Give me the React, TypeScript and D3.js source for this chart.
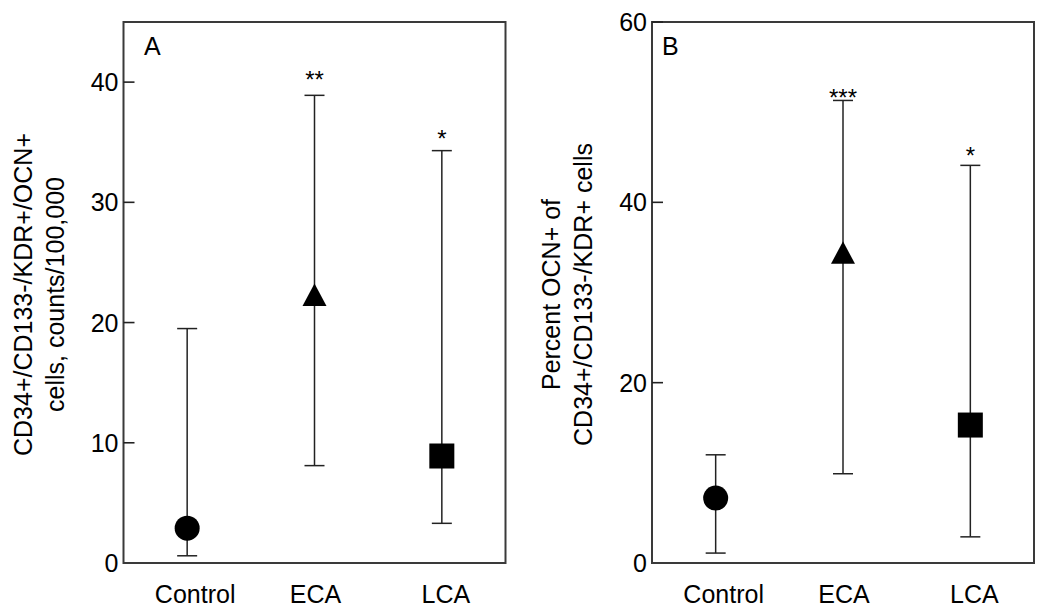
import React from "react";
import * as d3 from "d3";

const categories = ["Control", "ECA", "LCA"];
const markerShapes = ["circle", "triangle", "square"];

const panelAMean = [2.9, 22.3, 8.9];
const panelALow = [0.6, 8.1, 3.3];
const panelAHigh = [19.5, 38.9, 34.3];
const panelAStars = ["", "**", "*"];
const panelAStarAt = [0, 39.5, 34.6];
const panelATicks = [0, 10, 20, 30, 40];
const panelAMax = 45;
const panelATitle = ["CD34+/CD133-/KDR+/OCN+", "cells, counts/100,000"];

const panelBMean = [7.2, 34.4, 15.3];
const panelBLow = [1.1, 9.9, 2.9];
const panelBHigh = [12.0, 51.3, 44.1];
const panelBStars = ["", "***", "*"];
const panelBStarAt = [0, 50.7, 44.2];
const panelBTicks = [0, 20, 40, 60];
const panelBMax = 60;
const panelBTitle = ["Percent OCN+ of", "CD34+/CD133-/KDR+ cells"];

const FONT = "'Liberation Sans', Arial, Helvetica, sans-serif";
const labelDx = [8, 1, 4];

type PanelProps = {
  left: number;
  right: number;
  top: number;
  bottom: number;
  letter: string;
  letterX: number;
  mean: number[];
  low: number[];
  high: number[];
  stars: string[];
  starAt: number[];
  ticks: number[];
  yMax: number;
  title: string[];
};

function Marker({ shape, x, y }: { shape: string; x: number; y: number }) {
  if (shape === "circle") return <circle cx={x} cy={y} r={12.5} fill="#000" />;
  if (shape === "square")
    return <rect x={x - 12.5} y={y - 12.5} width={25} height={25} fill="#000" />;
  const p = d3.path();
  p.moveTo(x, y - 11.5);
  p.lineTo(x + 12, y + 11);
  p.lineTo(x - 12, y + 11);
  p.closePath();
  return <path d={p.toString()} fill="#000" />;
}

function Panel(props: PanelProps) {
  const { left, right, top, bottom } = props;
  const x = d3.scalePoint<string>().domain(categories).range([left, right]).padding(0.5);
  const y = d3.scaleLinear().domain([0, props.yMax]).range([bottom, top]);
  const cap = 10;
  const titleMid = (top + bottom) / 2 + 2;
  return (
    <g fontFamily={FONT}>
      <rect x={left} y={top} width={right - left} height={bottom - top} fill="none" stroke="#3a3a3a" strokeWidth={2} />
      {props.ticks.map((t) => (
        <g key={t}>
          {t !== 0 && <line x1={left} x2={left + 11} y1={y(t)} y2={y(t)} stroke="#222" strokeWidth={1.6} />}
          <text x={left - 5} y={y(t)} dy="0.36em" textAnchor="end" fontSize={25} fill="#000">
            {t}
          </text>
        </g>
      ))}
      <text x={props.letterX} y={top + 33} fontSize={25} fill="#000">
        {props.letter}
      </text>
      {categories.map((c, i) => {
        const cx = x(c) as number;
        return (
          <g key={c}>
            <line x1={cx} x2={cx} y1={y(props.high[i])} y2={y(props.low[i])} stroke="#222" strokeWidth={1.5} />
            <line x1={cx - cap} x2={cx + cap} y1={y(props.high[i])} y2={y(props.high[i])} stroke="#222" strokeWidth={1.5} />
            <line x1={cx - cap} x2={cx + cap} y1={y(props.low[i])} y2={y(props.low[i])} stroke="#222" strokeWidth={1.5} />
            <Marker shape={markerShapes[i]} x={cx} y={y(props.mean[i])} />
            {props.stars[i] && (
              <text x={cx} y={y(props.starAt[i])} textAnchor="middle" fontSize={24} fill="#000">
                {props.stars[i]}
              </text>
            )}
            <text x={cx + labelDx[i]} y={603} textAnchor="middle" fontSize={25} fill="#000">
              {c}
            </text>
          </g>
        );
      })}
      {props.title.map((line, k) => {
        const bx = left - 92 + k * 32;
        return (
          <text
            key={k}
            transform={`translate(${bx},${titleMid}) rotate(-90)`}
            textAnchor="middle"
            fontSize={25}
            fill="#000"
          >
            {line}
          </text>
        );
      })}
    </g>
  );
}

export default function App() {
  return (
    <svg
      width={1050}
      height={614}
      style={{ position: "absolute", left: 0, top: 0, background: "#fff" }}
    >
      <rect x={0} y={0} width={1050} height={614} fill="#fff" />
      <Panel
        left={123.5}
        right={505.5}
        top={22}
        bottom={563}
        letter="A"
        letterX={144}
        mean={panelAMean}
        low={panelALow}
        high={panelAHigh}
        stars={panelAStars}
        starAt={panelAStarAt}
        ticks={panelATicks}
        yMax={panelAMax}
        title={panelATitle}
      />
      <Panel
        left={652}
        right={1034}
        top={22}
        bottom={563}
        letter="B"
        letterX={662}
        mean={panelBMean}
        low={panelBLow}
        high={panelBHigh}
        stars={panelBStars}
        starAt={panelBStarAt}
        ticks={panelBTicks}
        yMax={panelBMax}
        title={panelBTitle}
      />
    </svg>
  );
}
